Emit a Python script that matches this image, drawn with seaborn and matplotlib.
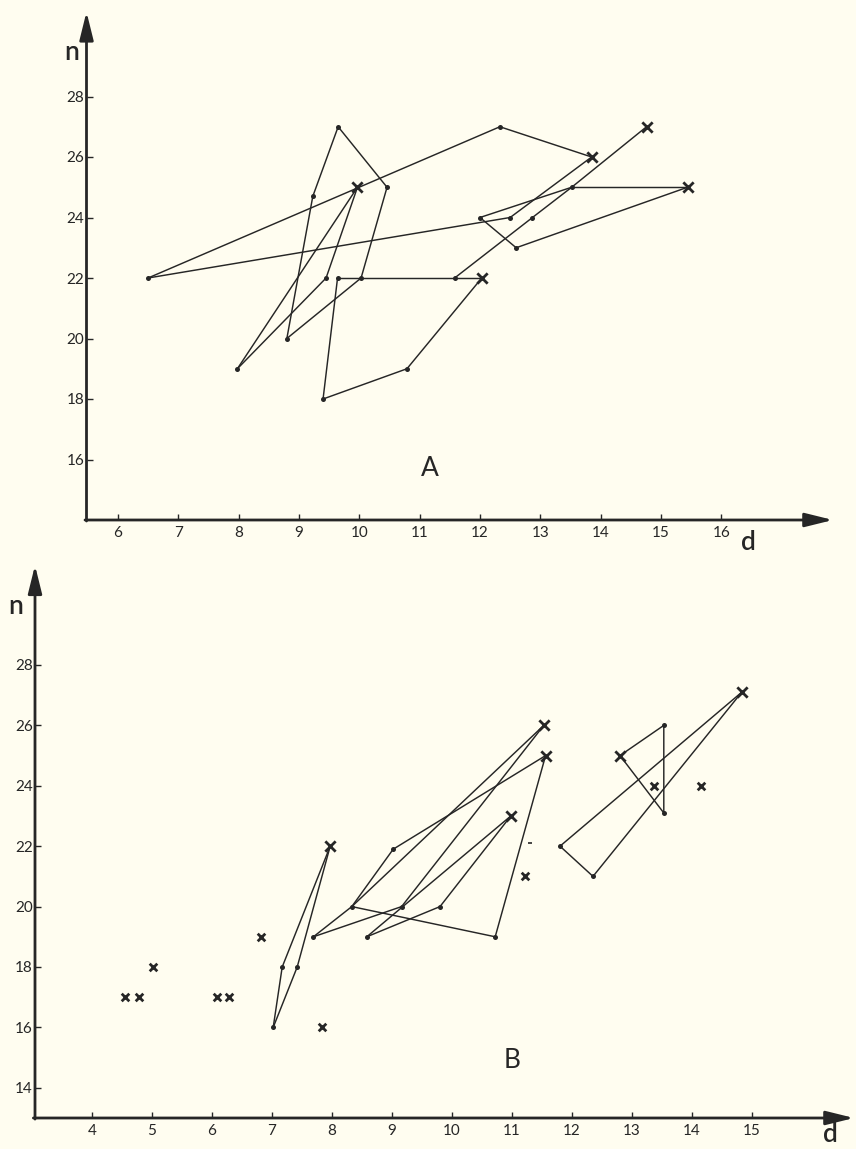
import numpy as np
import pandas as pd
import matplotlib
matplotlib.use("Agg")
import matplotlib.pyplot as plt
import seaborn as sns

# ---------------- panel A data: (d, n) paths ----------------
a_path = [1, 1, 1,
          2, 2, 2,
          3, 3, 3, 3,
          4, 4,
          5, 5, 5, 5,
          6, 6, 6, 6,
          7, 7, 7, 7,
          8, 8, 8, 8, 8, 8,
          9, 9,
          10, 10, 10]
a_d = [6.50, 12.33, 13.85,
       6.50, 12.50, 13.85,
       11.58, 12.87, 13.52, 14.76,
       13.52, 15.44,
       13.52, 12.00, 12.60, 15.44,
       9.64, 10.03, 11.58, 12.03,
       9.64, 9.40, 10.79, 12.03,
       10.03, 8.80, 9.23, 9.65, 10.46, 10.03,
       7.98, 9.97,
       7.98, 9.45, 9.97]
a_n = [22, 27, 26,
       22, 24, 26,
       22, 24, 25, 27,
       25, 25,
       25, 24, 23, 25,
       22, 22, 22, 22,
       22, 18, 19, 22,
       22, 20, 24.7, 27, 25, 22,
       19, 25,
       19, 22, 25]
a_end_d = [9.97, 12.03, 13.85, 14.76, 15.44]
a_end_n = [25, 22, 26, 27, 25]

# ---------------- panel B data ----------------
b_path = [1, 1, 1,
          2, 2, 2,
          3, 3, 3, 3,
          4, 4, 4,
          5, 5,
          6, 6, 6,
          7, 7, 7,
          8, 8,
          9, 9,
          10, 10, 10,
          11, 11, 11, 11]
b_d = [7.02, 7.17, 7.97,
       7.02, 7.42, 7.97,
       7.69, 8.33, 9.02, 11.56,
       7.69, 9.16, 11.53,
       8.33, 11.53,
       8.33, 10.72, 11.56,
       8.58, 9.80, 10.98,
       8.58, 10.98,
       11.80, 14.83,
       11.80, 12.35, 14.83,
       12.80, 13.53, 13.53, 12.80]
b_n = [16, 18, 22,
       16, 18, 22,
       19, 20, 21.9, 25,
       19, 20, 26,
       20, 26,
       20, 19, 25,
       19, 20, 23,
       19, 23,
       22, 27.1,
       22, 21, 27.1,
       25, 26, 23.1, 25]
b_end_d = [7.97, 11.53, 11.56, 10.98, 14.83, 12.80]
b_end_n = [22, 26, 25, 23, 27.1, 25]
# single observations drawn as crosses only
b_single_d = [4.55, 4.78, 5.02, 6.08, 6.29, 6.82, 7.84, 11.22, 13.36, 14.15]
b_single_n = [17, 17, 18, 17, 17, 19, 16, 21, 24, 24]
b_stray_d = [11.30]
b_stray_n = [22.1]

a_xticks = list(range(6, 17))
a_yticks = list(range(16, 29, 2))
b_xticks = list(range(4, 16))
b_yticks = list(range(14, 29, 2))

# ---------------- style ----------------
BG = "#fffdf0"
INK = "#262626"
W, H = 856, 1149

sns.set_theme(style="white")
plt.rcParams["font.family"] = ["Lato", "DejaVu Sans"]
plt.rcParams["axes.facecolor"] = BG
plt.rcParams["figure.facecolor"] = BG

fig = plt.figure(figsize=(W / 100, H / 100), dpi=100)


def px_axes(left, top, right, bottom):
    return fig.add_axes([left / W, 1 - bottom / H, (right - left) / W, (bottom - top) / H])


def fig_text(x, y, s, size, weight="normal"):
    fig.text(x / W, 1 - y / H, s, ha="center", va="center", fontsize=size,
             color=INK, fontweight=weight)


def draw_panel(ax, path, d, n, end_d, end_n, xlim, ylim, xticks, yticks):
    df = pd.DataFrame({"path": path, "d": d, "n": n})
    sns.lineplot(data=df, x="d", y="n", units="path", estimator=None, sort=False,
                 color=INK, linewidth=1.05, ax=ax, legend=False)
    ends = set(zip(end_d, end_n))
    verts = sorted({(x, y) for x, y in zip(d, n) if (x, y) not in ends})
    sns.scatterplot(x=[v[0] for v in verts], y=[v[1] for v in verts], ax=ax,
                    color=INK, s=13, linewidth=0, legend=False)
    ax.scatter(end_d, end_n, marker="x", s=55, linewidths=2.0, color=INK, zorder=4)
    ax.set_xlim(*xlim)
    ax.set_ylim(*ylim)
    ax.set_xticks(xticks)
    ax.set_yticks(yticks)
    ax.set_xlabel("")
    ax.set_ylabel("")
    for sp in ax.spines.values():
        sp.set_visible(False)
    ax.tick_params(axis="both", direction="in", length=4, width=1.0, colors=INK,
                   labelsize=11, labelcolor=INK)
    ax.tick_params(axis="x", pad=4, bottom=True)
    ax.tick_params(axis="y", pad=1.5, left=True)
    arrow = dict(arrowstyle="-|>,head_length=1.7,head_width=0.42", color=INK,
                 lw=2.0, shrinkA=0, shrinkB=0, mutation_scale=10)
    ax.annotate("", xy=(0, 1), xytext=(0, -0.002), xycoords="axes fraction",
                arrowprops=arrow, annotation_clip=False)
    ax.annotate("", xy=(1, 0), xytext=(-0.002, 0), xycoords="axes fraction",
                arrowprops=arrow, annotation_clip=False)


# panel A: d 5.48..17.85 over x 86.5..833 px, n 14..30.8 over y 520..11.8 px
ax_a = px_axes(86.5, 11.8, 833, 520)
draw_panel(ax_a, a_path, a_d, a_n, a_end_d, a_end_n,
           (5.48, 17.85), (14, 30.8), a_xticks, a_yticks)

# panel B: d 3.05..16.7 over x 35..854 px, n 13..31.3 over y 1118..565 px
ax_b = px_axes(35, 565.3, 854, 1118)
draw_panel(ax_b, b_path, b_d, b_n, b_end_d, b_end_n,
           (3.05, 16.7), (13, 31.3), b_xticks, b_yticks)
ax_b.scatter(b_single_d, b_single_n, marker="x", s=30, linewidths=2.0, color=INK, zorder=4)
ax_b.scatter(b_stray_d, b_stray_n, marker="_", s=12, linewidths=1.2, color=INK, zorder=4)

fig_text(72, 52, "n", 19, "semibold")
fig_text(748, 542, "d", 19, "semibold")
fig_text(430, 468, "A", 19)
fig_text(16, 607, "n", 19, "semibold")
fig_text(830, 1134, "d", 19, "semibold")
fig_text(512, 1060, "B", 19)

fig.savefig("out.png", dpi=100, facecolor=BG)
